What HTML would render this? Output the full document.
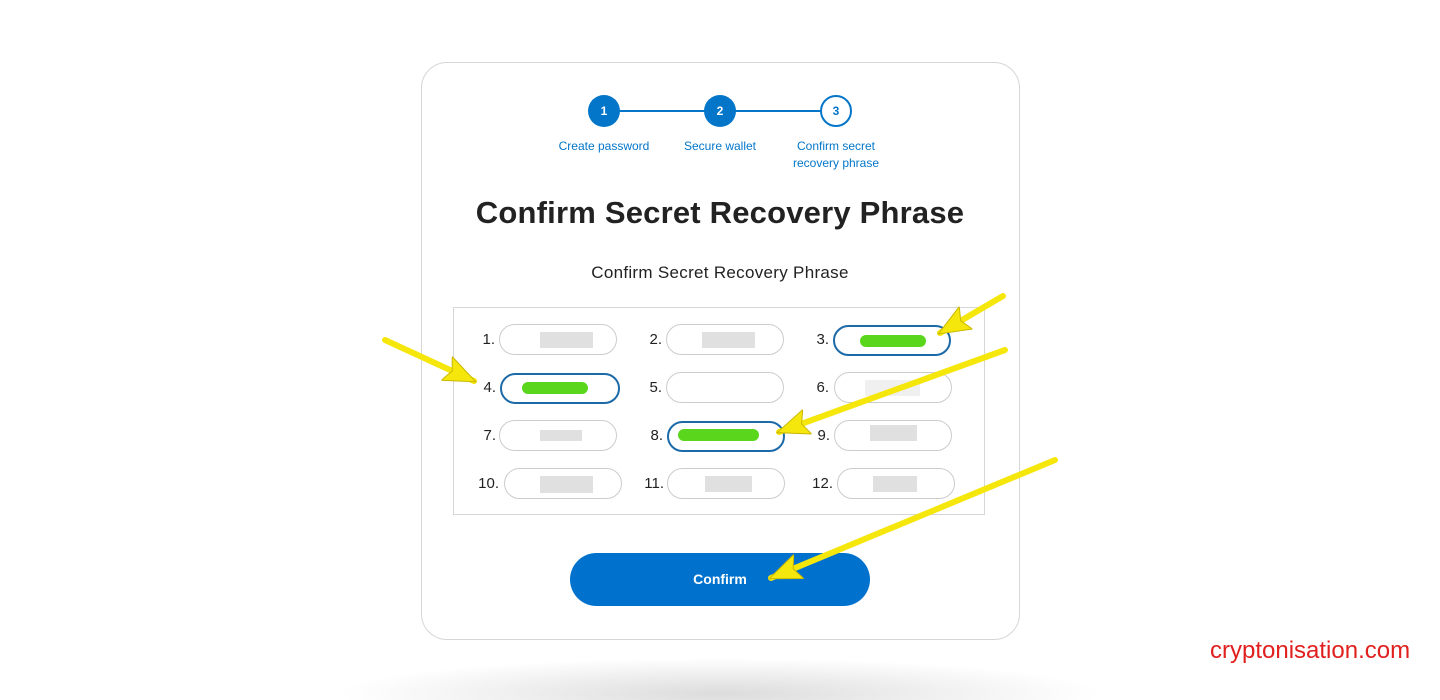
<!DOCTYPE html>
<html><head><style>
body{margin:0;width:1440px;height:678px;background:#fff;position:relative;overflow:hidden;font-family:"Liberation Sans",sans-serif}
.a{position:absolute}
.card{left:421px;top:62px;width:597px;height:576px;border:1px solid #d6d6d6;border-radius:26px;background:#fff}
.c{width:32px;height:32px;border-radius:50%;background:#0376c9;color:#fff;font-size:12px;font-weight:bold;text-align:center;line-height:32px;box-sizing:border-box}
.lb{color:#0376c9;font-size:12px;text-align:center;line-height:17px}
.in{width:118px;height:31px;border:1px solid #ccc;border-radius:16px;box-sizing:border-box;background:#fff}
.in.h{border:2px solid #1d6aa8}
.n{font-size:15px;color:#222;text-align:right;width:30px}
.g{background:#5ad61c;border-radius:8px;height:12px}
.b{background:#e0e0e0;height:16px}
</style></head><body>
<div class="a" style="left:340px;top:640px;width:760px;height:60px;background:radial-gradient(ellipse 50% 60% at center 90%,#dcdcdc,#fff)"></div>
<div class="a card"></div>
<div class="a" style="left:604px;top:110px;width:232px;height:2px;background:#0376c9"></div>
<div class="a c" style="left:588px;top:95px">1</div>
<div class="a c" style="left:704px;top:95px">2</div>
<div class="a c" style="left:820px;top:95px;background:#fff;border:2px solid #0376c9;color:#0376c9;line-height:28px">3</div>
<div class="a lb" style="left:544px;top:138px;width:120px">Create password</div>
<div class="a lb" style="left:660px;top:138px;width:120px">Secure wallet</div>
<div class="a lb" style="left:776px;top:138px;width:120px">Confirm secret<br>recovery phrase</div>
<div class="a" style="left:421px;top:195px;width:598px;text-align:center;font-size:31px;font-weight:bold;color:#222;letter-spacing:0.2px">Confirm Secret Recovery Phrase</div>
<div class="a" style="left:421px;top:263px;width:598px;text-align:center;font-size:17px;color:#222;letter-spacing:0.3px">Confirm Secret Recovery Phrase</div>
<div class="a" style="left:453px;top:307px;width:532px;height:208px;border:1px solid #d6d6d6;box-sizing:border-box"></div>

<div class="a n" style="left:465px;top:331px">1.</div><div class="a in" style="left:499px;top:324px"></div><div class="a b" style="left:540px;top:332px;width:53px"></div>
<div class="a n" style="left:632px;top:331px">2.</div><div class="a in" style="left:666px;top:324px"></div><div class="a b" style="left:702px;top:332px;width:53px"></div>
<div class="a n" style="left:799px;top:331px">3.</div><div class="a in h" style="left:833px;top:325px;height:31px"></div><div class="a g" style="left:860px;top:335px;width:66px"></div>

<div class="a n" style="left:466px;top:379px">4.</div><div class="a in h" style="left:500px;top:373px;width:120px"></div><div class="a g" style="left:522px;top:382px;width:66px"></div>
<div class="a n" style="left:632px;top:379px">5.</div><div class="a in" style="left:666px;top:372px"></div>
<div class="a n" style="left:799px;top:379px">6.</div><div class="a in" style="left:834px;top:372px"></div><div class="a b" style="left:865px;top:380px;width:55px;background:#f0f0f0"></div>

<div class="a n" style="left:466px;top:427px">7.</div><div class="a in" style="left:499px;top:420px"></div><div class="a b" style="left:540px;top:430px;width:42px;height:11px"></div>
<div class="a n" style="left:633px;top:427px">8.</div><div class="a in h" style="left:667px;top:421px;height:31px"></div><div class="a g" style="left:678px;top:429px;width:81px"></div>
<div class="a n" style="left:800px;top:427px">9.</div><div class="a in" style="left:834px;top:420px"></div><div class="a b" style="left:870px;top:425px;width:47px"></div>

<div class="a n" style="left:469px;top:475px">10.</div><div class="a in" style="left:504px;top:468px"></div><div class="a b" style="left:540px;top:476px;width:53px;height:17px"></div>
<div class="a n" style="left:634px;top:475px">11.</div><div class="a in" style="left:667px;top:468px"></div><div class="a b" style="left:705px;top:476px;width:47px"></div>
<div class="a n" style="left:803px;top:475px">12.</div><div class="a in" style="left:837px;top:468px"></div><div class="a b" style="left:873px;top:476px;width:44px"></div>

<div class="a" style="left:570px;top:553px;width:300px;height:53px;border-radius:27px;background:#0072ce;color:#fff;font-weight:bold;font-size:14px;text-align:center;line-height:53px">Confirm</div>
<div class="a" style="left:1210px;top:637px;font-size:24px;color:#e0201e">cryptonisation.com</div>

<svg class="a" style="left:0;top:0" width="1440" height="678">
<defs><marker id="m" markerUnits="userSpaceOnUse" markerWidth="34" markerHeight="30" refX="30" refY="15" orient="auto"><polygon points="0,2 32,15 0,28 6,15" fill="#f5e60c" stroke="#c9b800" stroke-width="1"/></marker></defs>
<g stroke="#f5e60c" stroke-width="6" stroke-linecap="round" fill="none" marker-end="url(#m)">
<line x1="385" y1="340" x2="474" y2="381"/>
<line x1="1003" y1="296" x2="940" y2="333"/>
<line x1="1005" y1="350" x2="779" y2="432"/>
<line x1="1055" y1="460" x2="771" y2="578"/>
</g>
</svg>
</body></html>
